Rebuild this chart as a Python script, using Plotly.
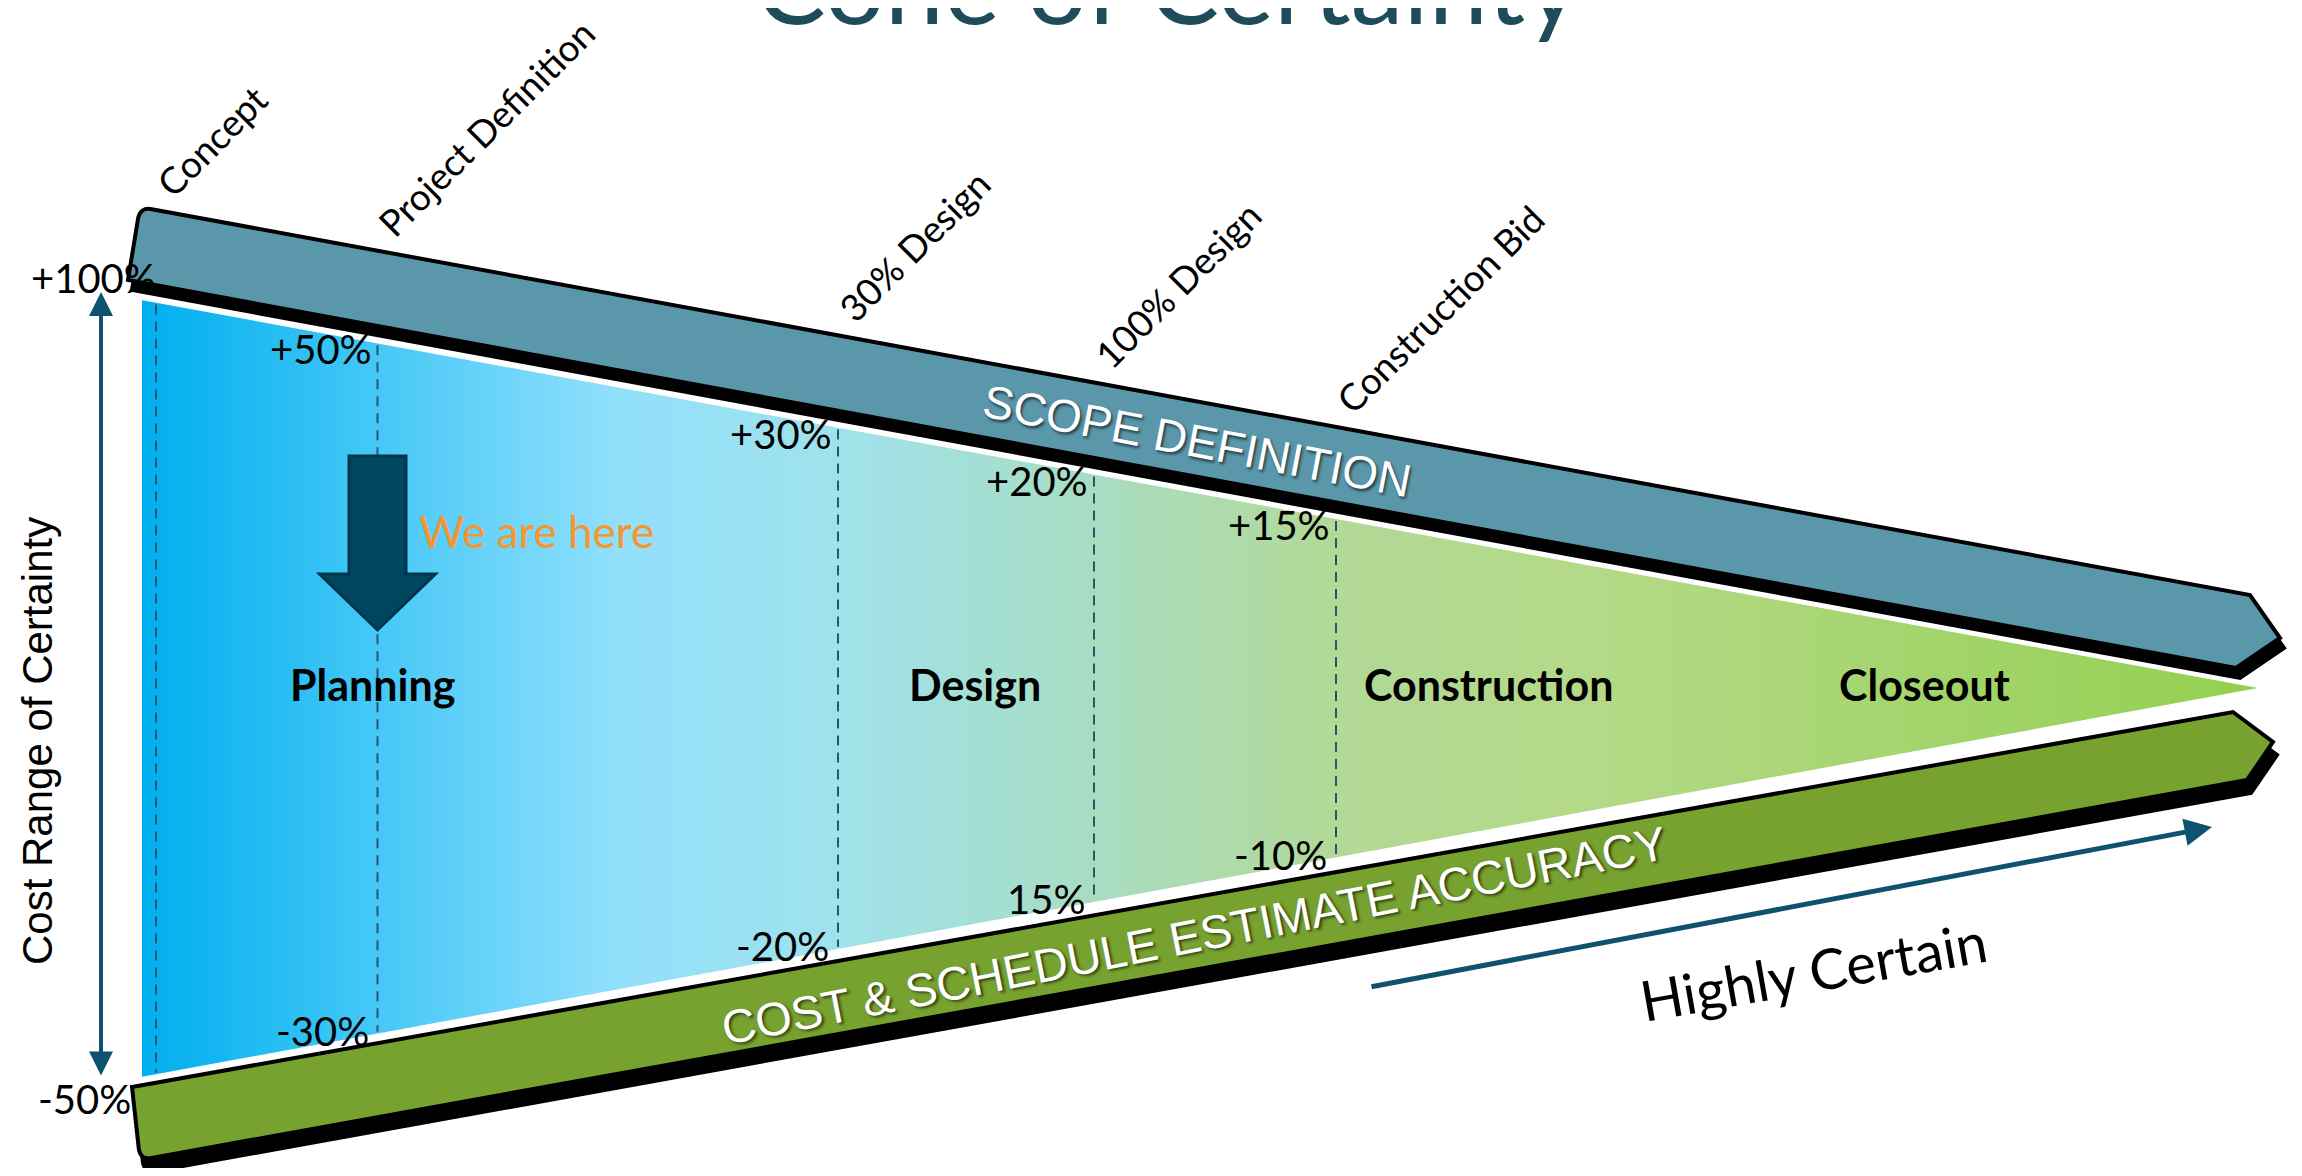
import numpy as np
import plotly.graph_objects as go

# ---------------- data ----------------
title_text = "Cone of Certainty"
milestones = ["Concept", "Project Definition", "30% Design", "100% Design", "Construction Bid"]
upper_range = ["+100%", "+50%", "+30%", "+20%", "+15%"]
lower_range = ["-50%", "-30%", "-20%", "15%", "-10%"]
phases = ["Planning", "Design", "Construction", "Closeout"]
band_top_text = "SCOPE DEFINITION"
band_bottom_text = "COST & SCHEDULE ESTIMATE ACCURACY"
axis_text = "Cost Range of Certainty"
direction_text = "Highly Certain"
marker_text = "We are here"
current_milestone = 1  # "Project Definition"

# ---------------- layout geometry (canvas units) ----------------
W, H = 2302, 1176
PAD = 8  # page body margin
CONE_X0, CONE_TOP, CONE_BOT = 142, 300, 1077
APEX_X, APEX_Y = 2258, 688
milestone_x = [156, 377.5, 838, 1094, 1336]
phase_x = [372, 975, 1489, 1924]
PHASE_Y = 684

grad_x = [142, 330, 620, 838, 1094, 1336, 1600, 2258]
grad_c = ["rgb(0,174,239)", "rgb(55,195,245)", "rgb(146,224,252)", "rgb(160,226,236)",
          "rgb(168,221,194)", "rgb(178,217,150)", "rgb(180,217,135)", "rgb(146,208,80)"]

TEAL = "#5B97AA"
OLIVE = "#77A22F"
NAVY = "#0F5270"
CAL = "Lato"
ARIAL = "Liberation Sans"


def top_edge(x):
    return CONE_TOP + (APEX_Y - CONE_TOP) * (x - CONE_X0) / (APEX_X - CONE_X0)


def bot_edge(x):
    return CONE_BOT + (APEX_Y - CONE_BOT) * (x - CONE_X0) / (APEX_X - CONE_X0)


def band_top(x):
    return 207 + (595 - 207) * (x - 140) / (2250 - 140)


fig = go.Figure()

# gradient cone body (heatmap, later masked to triangle)
xe = np.arange(120, 2300, 6.0)
xc = (xe[:-1] + xe[1:]) / 2
z = np.vstack([xc, xc])
span = grad_x[-1] - grad_x[0]
cscale = [[(gx - grad_x[0]) / span, c] for gx, c in zip(grad_x, grad_c)]
fig.add_trace(go.Heatmap(x=xe, y=[290, 690, 1090], z=z, colorscale=cscale,
                         zmin=grad_x[0], zmax=grad_x[-1], zsmooth="best",
                         showscale=False, hoverinfo="skip"))

shapes = []
# masks outside the cone
shapes.append(dict(type="rect", x0=100, x1=CONE_X0, y0=270, y1=1110,
                   fillcolor="white", line=dict(width=0)))
shapes.append(dict(type="path",
                   path=f"M {CONE_X0-1},270 L {CONE_X0-1},{CONE_TOP} L {APEX_X},{APEX_Y} L 2300,{APEX_Y} L 2300,270 Z",
                   fillcolor="white", line=dict(width=0)))
shapes.append(dict(type="path",
                   path=f"M {CONE_X0-1},1110 L {CONE_X0-1},{CONE_BOT} L {APEX_X},{APEX_Y} L 2300,{APEX_Y} L 2300,1110 Z",
                   fillcolor="white", line=dict(width=0)))

# dashed milestone lines
for mx in milestone_x:
    shapes.append(dict(type="line", x0=mx, x1=mx, y0=top_edge(mx) + 2, y1=bot_edge(mx) - 2,
                       line=dict(color="#1F5A73", width=2, dash="10px,7px")))


def upper_band_path(dx=0, dy=0):
    s = f"M {128+dx},{280+dy} L {138+dx},{219+dy} Q {140+dx},{207+dy} {151.8+dx},{209.2+dy} "
    s += f"L {2250+dx},{595+dy} L {2280+dx},{638+dy} L {2236+dx},{668+dy} Z"
    return s


def lower_band_path(dx=0, dy=0):
    s = f"M {132+dx},{1087+dy} L {2233+dx},{712+dy} L {2273+dx},{742+dy} L {2247+dx},{780+dy} "
    s += f"L {151.8+dx},{1157.9+dy} Q {140+dx},{1160+dy} {138.7+dx},{1148+dy} Z"
    return s


# band shadows + bands
shapes.append(dict(type="path", path=upper_band_path(4, 10), fillcolor="black",
                   line=dict(color="black", width=4)))
shapes.append(dict(type="path", path=upper_band_path(), fillcolor=TEAL,
                   line=dict(color="black", width=4)))
shapes.append(dict(type="path", path=lower_band_path(4, 13), fillcolor="black",
                   line=dict(color="black", width=4)))
shapes.append(dict(type="path", path=lower_band_path(), fillcolor=OLIVE,
                   line=dict(color="black", width=4)))

# "we are here" block arrow at current milestone
cx = milestone_x[current_milestone]
shapes.append(dict(type="path",
                   path=(f"M {cx-28.5},456 L {cx+28.5},456 L {cx+28.5},574 L {cx+58},574 "
                         f"L {cx},630 L {cx-58},574 L {cx-28.5},574 Z"),
                   fillcolor="#00465F", line=dict(color="#00364B", width=3)))

ann = []
# title
ann.append(dict(text=title_text, xref="paper", yref="paper",
                x=(1167 - PAD) / (W - 2 * PAD), y=1 - (48 - PAD) / (H - 2 * PAD),
                xanchor="center", yanchor="bottom", showarrow=False, borderpad=0,
                font=dict(family=CAL, size=106, color="#1E4C5B")))

# milestone labels (rotated)
for name, mx in zip(milestones, milestone_x):
    ann.append(dict(text=name, x=mx - 10, y=band_top(mx) - 4, xanchor="left", yanchor="bottom",
                    textangle=-45, showarrow=False, borderpad=0,
                    font=dict(family=CAL, size=37, color="black")))

# range labels
for i, (up, lo) in enumerate(zip(upper_range, lower_range)):
    mx = milestone_x[i]
    if i == 0:
        ux, uy = CONE_X0 + 15, CONE_TOP - 22
        lx, ly = CONE_X0 - 10, CONE_BOT + 22
    else:
        ux, uy = mx - 5, top_edge(mx) + 6
        lx, ly = mx - 8, bot_edge(mx) - 3
    ann.append(dict(text=up, x=ux, y=uy, xanchor="right", yanchor="middle", showarrow=False,
                    borderpad=0, font=dict(family=CAL, size=40, color="black")))
    ann.append(dict(text=lo, x=lx, y=ly, xanchor="right", yanchor="middle", showarrow=False,
                    borderpad=0, font=dict(family=CAL, size=40, color="black")))

# phase labels
for name, px in zip(phases, phase_x):
    ann.append(dict(text=f"<b>{name}</b>", x=px, y=PHASE_Y, xanchor="center", yanchor="middle",
                    showarrow=False, borderpad=0, font=dict(family=CAL, size=43, color="black")))

# we are here
ann.append(dict(text=marker_text, x=cx + 40, y=531, xanchor="left", yanchor="middle",
                showarrow=False, borderpad=0, font=dict(family=CAL, size=44, color="#F5962F")))

# band texts
ann.append(dict(text=band_top_text, x=1197, y=441, xanchor="center", yanchor="middle",
                textangle=10.8, showarrow=False, borderpad=0,
                font=dict(family=ARIAL, size=46, color="white",
                          shadow="2px 2px 3px rgba(0,0,0,0.6)")))
ann.append(dict(text=band_bottom_text, x=1194, y=935, xanchor="center", yanchor="middle",
                textangle=-11.2, showarrow=False, borderpad=0,
                font=dict(family=ARIAL, size=47, color="white",
                          shadow="2px 2px 3px rgba(0,0,0,0.6)")))

# vertical axis label + double arrow
ann.append(dict(text=axis_text, x=37, y=741, xanchor="center", yanchor="middle", textangle=-90,
                showarrow=False, borderpad=0, font=dict(family=ARIAL, size=42, color="black")))
ann.append(dict(text="", x=101, y=CONE_TOP - 8, ax=101, ay=CONE_BOT, xref="x", yref="y",
                axref="x", ayref="y", showarrow=True, arrowhead=2, arrowsize=1.2, arrowwidth=4,
                arrowside="end+start", arrowcolor=NAVY, standoff=0, startstandoff=0))

# highly certain arrow + text
ann.append(dict(text="", x=2212, y=827, ax=1370, ay=987, xref="x", yref="y",
                axref="x", ayref="y", showarrow=True, arrowhead=2, arrowsize=1.1, arrowwidth=5,
                arrowcolor=NAVY, standoff=0))
ann.append(dict(text=direction_text, x=1813, y=970, xanchor="center", yanchor="middle",
                textangle=-10, showarrow=False, borderpad=0,
                font=dict(family=CAL, size=56, color="black")))

fig.update_layout(
    width=W - 2 * PAD, height=H - 2 * PAD,
    margin=dict(l=0, r=0, t=0, b=0),
    paper_bgcolor="white", plot_bgcolor="white",
    xaxis=dict(range=[PAD, W - PAD], visible=False, fixedrange=True),
    yaxis=dict(range=[H - PAD, PAD], visible=False, fixedrange=True),
    shapes=shapes, annotations=ann, showlegend=False, hovermode=False,
)

fig.write_html("out.html")
